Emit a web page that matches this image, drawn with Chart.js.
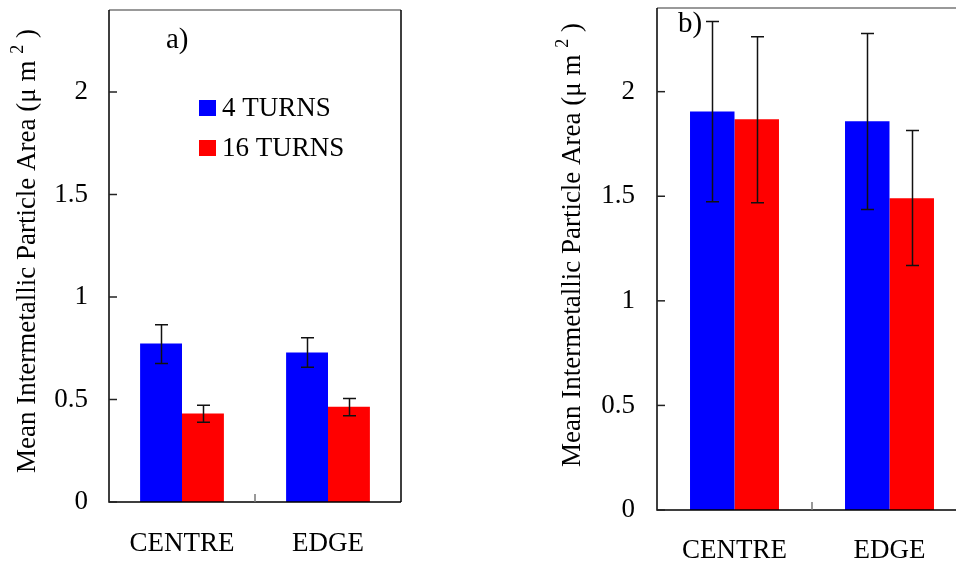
<!DOCTYPE html>
<html><head><meta charset="utf-8">
<script src="https://cdn.jsdelivr.net/npm/chart.js@4.4.1/dist/chart.umd.min.js"></script>
<style>
html,body{margin:0;padding:0;background:#fff;overflow:hidden;width:956px;height:566px;}
#ca{position:absolute;left:0;top:0;}
#cb{position:absolute;left:540px;top:0;}
</style></head>
<body>
<canvas id="ca" width="420" height="566"></canvas>
<canvas id="cb" width="440" height="566"></canvas>
<script>
// ---- data ----
const categories = ['CENTRE', 'EDGE'];
const seriesNames = ['4 TURNS', '16 TURNS'];
const yTicks = [0, 0.5, 1, 1.5, 2];
const yMax = 2.4;

// panel a)
const a4 = [0.773, 0.729];
const a4Hi = [0.865, 0.801];
const a4Lo = [0.676, 0.657];
const a16 = [0.432, 0.465];
const a16Hi = [0.472, 0.505];
const a16Lo = [0.389, 0.421];

// panel b)
const b4 = [1.905, 1.859];
const b4Hi = [2.335, 2.278];
const b4Lo = [1.474, 1.437];
const b16 = [1.868, 1.490];
const b16Hi = [2.262, 1.814];
const b16Lo = [1.469, 1.169];

const FONT = "'Liberation Serif', 'Times New Roman', serif";

const errPlugin = {
  id: 'errbars',
  afterDatasetsDraw(chart) {
    const ctx = chart.ctx, ys = chart.scales.y;
    ctx.save();
    ctx.strokeStyle = '#111';
    ctx.lineWidth = 1.5;
    chart.data.datasets.forEach((ds, i) => {
      const meta = chart.getDatasetMeta(i);
      meta.data.forEach((bar, j) => {
        const x = Math.round(bar.x) + 0.5;
        const hi = ys.getPixelForValue(ds.errHi[j]);
        const lo = ys.getPixelForValue(ds.errLo[j]);
        ctx.beginPath();
        ctx.moveTo(x, hi); ctx.lineTo(x, lo);
        ctx.moveTo(x - 6.5, hi); ctx.lineTo(x + 6.5, hi);
        ctx.moveTo(x - 6.5, lo); ctx.lineTo(x + 6.5, lo);
        ctx.stroke();
      });
    });
    ctx.restore();
  }
};

const framePlugin = {
  id: 'frame',
  afterDraw(chart, args, opts) {
    const ctx = chart.ctx, ca = chart.chartArea, ys = chart.scales.y, xs = chart.scales.x;
    ctx.save();
    ctx.lineWidth = 1.5;
    ctx.strokeStyle = '#777';
    ctx.beginPath();
    ctx.moveTo(ca.left, ca.top); ctx.lineTo(ca.right, ca.top);
    ctx.stroke();
    ctx.strokeStyle = '#000';
    ctx.beginPath();
    ctx.moveTo(ca.right, ca.top); ctx.lineTo(ca.right, ca.bottom);
    ctx.moveTo(ca.left, ca.top); ctx.lineTo(ca.left, ca.bottom); ctx.lineTo(ca.right, ca.bottom);
    ctx.stroke();
    ctx.strokeStyle = '#222';
    ys.ticks.forEach(t => {
      const y = ys.getPixelForValue(t.value);
      ctx.beginPath(); ctx.moveTo(ca.left, y); ctx.lineTo(ca.left + 8, y); ctx.stroke();
    });
    ctx.strokeStyle = '#777';
    const xm = (xs.getPixelForValue(0) + xs.getPixelForValue(1)) / 2;
    ctx.beginPath(); ctx.moveTo(xm, ca.bottom); ctx.lineTo(xm, ca.bottom - 8); ctx.stroke();

    // y-axis title with superscript
    ctx.fillStyle = '#000';
    ctx.translate(opts.titleX, opts.titleY);
    ctx.rotate(-Math.PI / 2);
    const main = 'Mean Intermetallic Particle Area (\u03bc m ';
    const sup = '2';
    const tail = ' )';
    ctx.font = '27px ' + FONT;
    const wMain = ctx.measureText(main).width;
    const wTail = ctx.measureText(tail).width;
    ctx.font = '18px ' + FONT;
    const wSup = ctx.measureText(sup).width;
    const total = wMain + wSup + wTail;
    ctx.textBaseline = 'middle';
    ctx.textAlign = 'left';
    let sx = -total / 2;
    ctx.font = '27px ' + FONT;
    ctx.fillText(main, sx, 0); sx += wMain;
    ctx.font = '18px ' + FONT;
    ctx.fillText(sup, sx, -10); sx += wSup;
    ctx.font = '27px ' + FONT;
    ctx.fillText(tail, sx, 0);
    ctx.setTransform(1, 0, 0, 1, 0, 0);

    ctx.font = '29px ' + FONT;
    ctx.textBaseline = 'middle';
    ctx.textAlign = 'left';
    ctx.fillText(opts.panel, opts.panelX, opts.panelY);

    if (opts.legend) {
      chart.data.datasets.forEach((ds, i) => {
        const ly = opts.legendY + i * opts.legendGap;
        ctx.fillStyle = ds.backgroundColor;
        ctx.fillRect(opts.legendX, ly - 8, 17, 16);
        ctx.fillStyle = '#000';
        ctx.font = '27px ' + FONT;
        ctx.fillText(ds.label, opts.legendX + 23, ly + 1);
      });
    }
    ctx.restore();
  }
};

function makeChart(id, v4, hi4, lo4, v16, hi16, lo16, cfg) {
  return new Chart(document.getElementById(id), {
    type: 'bar',
    data: {
      labels: categories,
      datasets: [
        { label: seriesNames[0], data: v4, errHi: hi4, errLo: lo4, backgroundColor: '#0000ff' },
        { label: seriesNames[1], data: v16, errHi: hi16, errLo: lo16, backgroundColor: '#ff0000' }
      ]
    },
    options: {
      responsive: false,
      animation: false,
      events: [],
      layout: { padding: { left: 0, top: cfg.top, right: cfg.right, bottom: 0 } },
      datasets: { bar: { categoryPercentage: 0.574, barPercentage: 1.0, borderWidth: 0 } },
      plugins: {
        legend: { display: false },
        tooltip: { enabled: false },
        frame: cfg.frame
      },
      scales: {
        x: {
          grid: { display: false, drawTicks: false },
          border: { display: false },
          ticks: { color: '#000', font: { family: FONT, size: 27 }, padding: cfg.xPad, maxRotation: 0 },
          afterFit(s) { s.height = cfg.xH; s.paddingLeft = 0; s.paddingRight = 0; }
        },
        y: {
          min: 0, max: yMax,
          grid: { display: false, drawTicks: false },
          border: { display: false },
          afterBuildTicks(s) { s.ticks = yTicks.map(v => ({ value: v })); },
          ticks: { color: '#000', font: { family: FONT, size: 27 }, padding: cfg.yPad, callback: v => String(v) },
          afterFit(s) { s.width = cfg.yW; s.paddingTop = 0; s.paddingBottom = 0; }
        }
      }
    },
    plugins: [errPlugin, framePlugin]
  });
}

makeChart('ca', a4, a4Hi, a4Lo, a16, a16Hi, a16Lo, {
  top: 10, right: 19, xH: 64, yW: 109, xPad: 26, yPad: 21,
  frame: { titleX: 28, titleY: 251, panel: 'a)', panelX: 166, panelY: 40, legend: true, legendX: 199, legendY: 108, legendGap: 40 }
});
makeChart('cb', b4, b4Hi, b4Lo, b16, b16Hi, b16Lo, {
  top: 8, right: 13, xH: 56, yW: 117, xPad: 25, yPad: 22,
  frame: { titleX: 33, titleY: 245, panel: 'b)', panelX: 138, panelY: 24, legend: false }
});
</script>
</body></html>
